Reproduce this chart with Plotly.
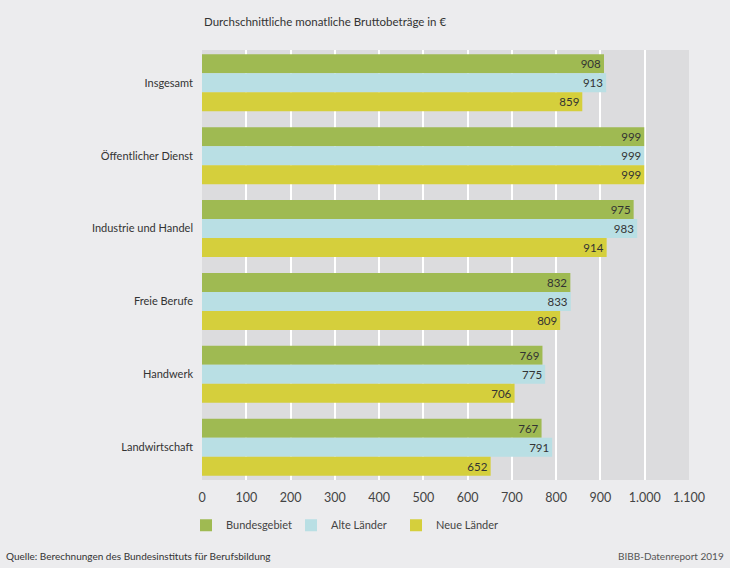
import plotly.graph_objects as go

categories = ["Insgesamt", "Öffentlicher Dienst", "Industrie und Handel", "Freie Berufe", "Handwerk", "Landwirtschaft"]
series_names = ["Bundesgebiet", "Alte Länder", "Neue Länder"]
bundesgebiet = [908, 999, 975, 832, 769, 767]
alte_laender = [913, 999, 983, 833, 775, 791]
neue_laender = [859, 999, 914, 809, 706, 652]
tick_values = list(range(0, 1200, 100))

colors = ["#9fba52", "#b9dfe4", "#d5cf3c"]
FONT = "Lato, Roboto, sans-serif"

fig = go.Figure()
for name, vals, col in zip(series_names, [bundesgebiet, alte_laender, neue_laender], colors):
    fig.add_trace(go.Bar(
        y=categories, x=vals, name=name, orientation="h",
        marker=dict(color=col, line=dict(width=0)),
        text=[str(v) for v in vals], textposition="inside", insidetextanchor="end",
        textfont=dict(family=FONT, size=11.5, color="#333333"),
        constraintext="none", cliponaxis=False,
    ))

fig.update_layout(
    width=730, height=568,
    margin=dict(l=202, r=41, t=50, b=88),
    paper_bgcolor="#ececee", plot_bgcolor="#dcdcde",
    barmode="group", bargap=0.218, bargroupgap=0,
    separators=",.",
    font=dict(family=FONT, size=12, color="#444444"),
    showlegend=True,
    legend=dict(orientation="h", x=-16 / 487, xanchor="left", y=-0.105, yanchor="middle",
                font=dict(family=FONT, size=11, color="#444444"),
                bgcolor="rgba(0,0,0,0)", traceorder="normal",
                entrywidth=60, entrywidthmode="pixels"),
    uniformtext=dict(mode=False),
)
fig.update_xaxes(range=[0, 1100], tickvals=tick_values, tickformat=",d",
                 showgrid=True, gridcolor="#ffffff", gridwidth=2, zeroline=False,
                 showline=False, ticks="", tickfont=dict(family=FONT, size=12.5, color="#444444"),
                 ticklabelstandoff=8)
fig.update_yaxes(range=[5.45, -0.45], showgrid=False, ticks="", showline=False,
                 tickfont=dict(family=FONT, size=11, color="#333333"), ticklabelstandoff=8)

fig.add_annotation(text="Durchschnittliche monatliche Bruttobeträge in €", xref="paper", yref="paper",
                   x=0, y=1 + (50 - 22) / 430, xanchor="left", yanchor="middle", showarrow=False,
                   font=dict(family=FONT, size=11.5, color="#333333"))
fig.add_annotation(text="Quelle: Berechnungen des Bundesinstituts für Berufsbildung", xref="paper", yref="paper",
                   x=-198 / 487, y=-(556 - 480) / 430, xanchor="left", yanchor="middle", showarrow=False,
                   font=dict(family=FONT, size=10, color="#333333"))
fig.add_annotation(text="BIBB-Datenreport 2019", xref="paper", yref="paper",
                   x=(726 - 202) / 487, y=-(556 - 480) / 430, xanchor="right", yanchor="middle", showarrow=False,
                   font=dict(family=FONT, size=10, color="#555555"))

fig.write_html("out.html", post_script="document.body.style.margin='0';",
               config={"displayModeBar": False})
